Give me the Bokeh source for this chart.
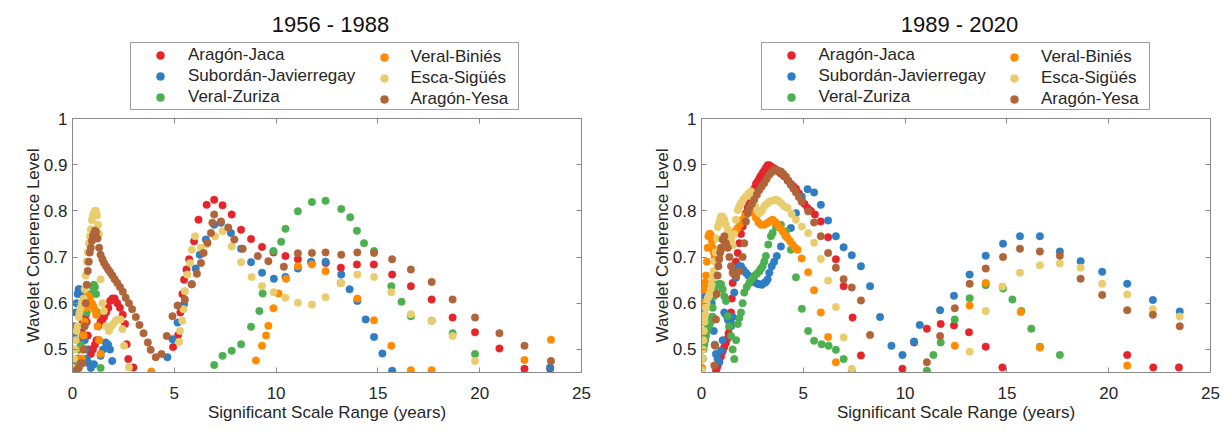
from bokeh.plotting import figure
from bokeh.models import Range1d, FixedTicker, LinearAxis, Legend, LegendItem, Label, ColumnDataSource
from bokeh.layouts import row, column
from bokeh.embed import file_html
from bokeh.resources import INLINE

FONT = "Liberation Sans"
SERIES_NAMES = ["Aragón-Jaca", "Subordán-Javierregay", "Veral-Zuriza",
                "Veral-Biniés", "Esca-Sigüés", "Aragón-Yesa"]
SERIES_COLORS = ["#E4262C", "#2F7DC2", "#4CAF50", "#FF8C00", "#E9CC6E", "#B0643A"]
X_TICKS = [0, 5, 10, 15, 20, 25]
Y_TICKS = [0.5, 0.6, 0.7, 0.8, 0.9, 1.0]
TITLE_1 = "1956 - 1988"
TITLE_2 = "1989 - 2020"
X_LABEL = "Significant Scale Range (years)"
Y_LABEL = "Wavelet Coherence Level"

# ---------------- 1956 - 1988 : (scale in years, coherence) ----------------
P1_ARAGON_JACA = [(0.25,0.46),(0.3,0.48),(0.35,0.50),(0.4,0.52),(0.45,0.54),(0.5,0.56),(0.55,0.575),(0.6,0.58),(0.65,0.575),(0.7,0.56),(0.75,0.53),(0.8,0.50),(0.9,0.49),(1.0,0.50),(1.1,0.51),(1.18,0.52),(1.26,0.55),(1.38,0.56),(1.47,0.565),(1.55,0.57),(1.65,0.58),(1.76,0.59),(1.85,0.605),(1.96,0.61),(2.07,0.61),(2.2,0.60),(2.33,0.59),(2.47,0.575),(2.58,0.555),(2.66,0.511),(2.74,0.479),(2.99,0.461),
    (4.94,0.505),(5.19,0.531),(5.3,0.58),(5.4,0.62),(5.48,0.651),(5.6,0.673),(5.73,0.695),(5.97,0.734),(6.19,0.781),(6.59,0.813),(6.96,0.824),(7.37,0.812),(7.82,0.792),(8.28,0.759),(8.77,0.739),(9.31,0.722),(9.87,0.71),(10.46,0.702),(11.07,0.695),(11.74,0.687),(12.44,0.687),(13.18,0.677),(13.97,0.684),(14.8,0.684),(15.7,0.662),(16.62,0.637),(17.64,0.608),(18.67,0.569),(19.77,0.537),(20.97,0.502),(22.2,0.458),(23.46,0.458)]
P1_SUBORDAN = [(0.0,0.47),(0.03,0.50),(0.06,0.53),(0.1,0.55),(0.15,0.58),(0.2,0.60),(0.25,0.62),(0.3,0.63),(0.35,0.63),(0.4,0.62),(0.45,0.60),(0.5,0.58),(0.55,0.55),(0.6,0.52),(0.65,0.50),(0.7,0.48),(0.8,0.47),(0.9,0.46),(1.05,0.468),(1.38,0.486),(1.5,0.50),(1.63,0.515),(1.75,0.51),(1.84,0.50),(1.95,0.475),
    (4.66,0.483),(4.91,0.522),(5.16,0.558),(5.48,0.598),(5.86,0.641),(6.05,0.675),(6.25,0.705),(6.55,0.738),(6.96,0.77),(7.29,0.774),(7.78,0.752),(8.28,0.718),(8.77,0.689),(9.31,0.666),(9.89,0.653),(10.46,0.657),(11.07,0.675),(11.72,0.69),(12.43,0.69),(13.2,0.662),(13.61,0.63),(13.99,0.605),(14.4,0.565),(14.81,0.527),(15.22,0.491),(15.7,0.454),(23.46,0.461)]
P1_VERAL_ZURIZA = [(0.1,0.46),(0.2,0.48),(0.3,0.50),(0.4,0.51),(0.5,0.53),(0.6,0.56),(0.7,0.58),(0.8,0.60),(0.9,0.62),(1.0,0.635),(1.05,0.64),(1.1,0.635),(1.16,0.62),(1.23,0.58),(1.31,0.52),(1.38,0.46),
    (6.96,0.466),(7.37,0.486),(7.82,0.497),(8.28,0.511),(8.77,0.549),(9.18,0.583),(9.34,0.621),(9.87,0.713),(10.25,0.733),(10.46,0.761),(11.07,0.799),(11.76,0.819),(12.43,0.822),(13.2,0.804),(13.64,0.786),(13.97,0.757),(14.32,0.73),(14.81,0.713),(15.66,0.637),(16.16,0.603),(16.62,0.572),(17.64,0.562),(18.67,0.535),(19.77,0.49)]
P1_VERAL_BINIES = [(0.3,0.46),(0.4,0.47),(0.45,0.48),(0.5,0.50),(0.55,0.53),(0.6,0.56),(0.65,0.59),(0.7,0.61),(0.75,0.615),(0.8,0.615),(0.85,0.61),(0.9,0.60),(0.95,0.60),(1.0,0.595),(1.05,0.59),(1.1,0.585),(1.16,0.575),(1.23,0.55),(1.31,0.52),(1.38,0.49),(3.87,0.452),
    (9.01,0.476),(9.31,0.508),(9.51,0.53),(9.62,0.551),(9.87,0.589),(10.12,0.621),(10.49,0.653),(11.07,0.68),(11.76,0.684),(12.43,0.669),(13.17,0.644),(13.99,0.61),(14.81,0.563),(15.66,0.508),(16.62,0.455),(17.64,0.455),(22.2,0.477),(23.5,0.521)]
P1_ESCA_SIGUES = [(0.03,0.46),(0.08,0.48),(0.12,0.50),(0.16,0.52),(0.2,0.54),(0.25,0.55),(0.3,0.57),(0.35,0.58),(0.4,0.59),(0.45,0.60),(0.5,0.60),(0.55,0.61),(0.6,0.63),(0.65,0.66),(0.7,0.69),(0.75,0.71),(0.8,0.73),(0.85,0.745),(0.9,0.76),(0.95,0.78),(1.0,0.79),(1.05,0.795),(1.1,0.80),(1.15,0.80),(1.2,0.79),(1.25,0.77),(1.3,0.75),(1.38,0.652),(1.47,0.6),(1.54,0.583),(1.65,0.55),(1.79,0.54),(1.9,0.55),(2.0,0.555),(2.12,0.562),(2.24,0.565),(2.36,0.565),(2.45,0.544),(2.53,0.508),(2.77,0.461),
    (5.24,0.516),(5.28,0.54),(5.39,0.562),(5.45,0.587),(5.52,0.626),(5.64,0.662),(5.77,0.687),(5.86,0.716),(6.02,0.745),(6.3,0.72),(6.6,0.727),(7.0,0.745),(7.37,0.756),(7.82,0.723),(8.28,0.689),(8.8,0.657),(9.31,0.637),(9.88,0.624),(10.46,0.612),(11.07,0.601),(11.76,0.597),(12.43,0.613),(13.2,0.644),(13.99,0.662),(14.81,0.657),(15.66,0.624),(16.62,0.576),(17.64,0.562),(18.67,0.529),(19.77,0.475)]
P1_ARAGON_YESA = [(0.2,0.455),(0.3,0.46),(0.4,0.47),(0.5,0.47),(0.55,0.50),(0.6,0.55),(0.65,0.60),(0.7,0.64),(0.75,0.67),(0.8,0.69),(0.85,0.71),(0.9,0.72),(0.95,0.735),(1.0,0.745),(1.05,0.75),(1.1,0.757),(1.16,0.755),(1.23,0.74),(1.31,0.72),(1.38,0.705),(1.47,0.695),(1.55,0.687),(1.65,0.68),(1.75,0.673),(1.85,0.667),(1.96,0.66),(2.07,0.652),(2.2,0.644),(2.33,0.635),(2.47,0.625),(2.61,0.612),(2.77,0.6),(2.93,0.587),(3.11,0.57),(3.29,0.553),(3.49,0.535),(3.7,0.515),(3.84,0.499),(4.09,0.483),(4.37,0.49),
    (4.63,0.529),(4.91,0.572),(5.16,0.595),(5.52,0.608),(5.85,0.641),(6.11,0.664),(6.31,0.687),(6.44,0.709),(6.63,0.731),(6.8,0.752),(6.87,0.774),(6.96,0.792),(7.29,0.777),(7.65,0.764),(7.95,0.738),(8.36,0.718),(9.1,0.702),(9.62,0.691),(10.38,0.679),(11.07,0.708),(11.76,0.709),(12.43,0.71),(13.2,0.705),(13.99,0.71),(14.81,0.709),(15.7,0.695),(16.62,0.673),(17.64,0.646),(18.67,0.608),(19.77,0.569),(20.97,0.535),(22.2,0.508),(23.5,0.475)]

# ---------------- 1989 - 2020 ----------------
P2_ARAGON_JACA = [(0.71,0.454),(0.75,0.46),(0.79,0.465),(0.87,0.475),(0.96,0.485),(1.04,0.496),(1.12,0.505),(1.2,0.514),(1.29,0.524),(1.33,0.535),(1.37,0.548),(1.41,0.562),(1.45,0.58),(1.49,0.61),(1.53,0.644),(1.61,0.665),(1.69,0.69),(1.78,0.709),(1.86,0.73),(1.94,0.75),(2.02,0.766),(2.1,0.78),(2.18,0.795),(2.27,0.807),(2.35,0.817),(2.43,0.827),(2.51,0.837),(2.59,0.848),(2.67,0.858),(2.75,0.863),(2.84,0.87),(2.92,0.876),(3.0,0.882),(3.08,0.887),(3.16,0.893),(3.25,0.899),(3.33,0.899),(3.45,0.895),(3.57,0.892),(3.66,0.889),(3.78,0.885),(3.9,0.881),(4.06,0.875),(4.23,0.866),(4.39,0.858),(4.52,0.853),(4.64,0.848),(4.78,0.838),(4.92,0.825),(5.06,0.815),(5.21,0.806),(5.37,0.8),(5.57,0.792),(5.86,0.777),(6.22,0.743),(6.6,0.695),(6.98,0.637),(7.42,0.569),(7.83,0.487),
    (9.87,0.458),(10.44,0.515),(11.07,0.545),(11.75,0.555),(12.4,0.552),(13.14,0.537),(13.96,0.506),(14.78,0.461),(20.91,0.488),(22.19,0.461),(23.45,0.461)]
P2_SUBORDAN = [(0.0,0.5),(0.04,0.53),(0.08,0.56),(0.12,0.58),(0.16,0.6),(0.2,0.615),(0.25,0.625),(0.3,0.63),(0.35,0.635),(0.4,0.63),(0.45,0.62),(0.5,0.6),(0.55,0.57),(0.6,0.54),(0.65,0.51),(0.71,0.49),(0.79,0.48),(0.87,0.472),(0.96,0.497),(1.04,0.52),(1.12,0.58),(1.2,0.575),(1.29,0.565),(1.37,0.558),(1.45,0.55),(1.53,0.57),(1.61,0.623),(1.69,0.655),(1.78,0.675),(1.85,0.68),(1.94,0.68),(2.06,0.672),(2.18,0.666),(2.3,0.66),(2.43,0.652),(2.51,0.648),(2.63,0.645),(2.75,0.642),(2.84,0.641),(2.96,0.64),(3.08,0.644),(3.16,0.646),(3.25,0.652),(3.33,0.666),(3.45,0.68),(3.57,0.69),(3.7,0.702),(3.9,0.723),(4.15,0.745),(4.39,0.763),(4.64,0.795),(4.92,0.831),(5.21,0.847),(5.53,0.84),(5.86,0.813),(6.22,0.779),(6.6,0.745),(6.98,0.721),(7.38,0.704),(7.83,0.68),(8.28,0.637),(8.77,0.57),(9.33,0.508),(9.87,0.488),(10.44,0.517),(10.72,0.553),(11.72,0.585),(12.4,0.616),(13.17,0.662),(13.96,0.703),(14.81,0.729),(15.64,0.745),(16.62,0.745),(17.6,0.712),(18.62,0.691),(19.68,0.668),(20.91,0.642),(22.17,0.607),(23.49,0.582)]
P2_VERAL_ZURIZA = [(0.02,0.46),(0.06,0.48),(0.1,0.5),(0.14,0.51),(0.18,0.52),(0.22,0.53),(0.26,0.54),(0.3,0.545),(0.35,0.55),(0.4,0.555),(0.45,0.56),(0.5,0.57),(0.55,0.59),(0.6,0.615),(0.65,0.63),(0.71,0.64),(0.79,0.64),(0.87,0.642),(0.96,0.641),(1.04,0.63),(1.12,0.615),(1.2,0.605),(1.29,0.572),(1.37,0.55),(1.45,0.529),(1.53,0.5),(1.61,0.479),(1.7,0.52),(1.78,0.555),(1.86,0.568),(1.94,0.58),(2.02,0.6),(2.1,0.623),(2.22,0.635),(2.35,0.644),(2.47,0.652),(2.59,0.659),(2.72,0.664),(2.84,0.669),(2.92,0.675),(3.0,0.68),(3.08,0.69),(3.16,0.702),(3.28,0.727),(3.41,0.745),(3.49,0.752),(3.66,0.765),(3.9,0.77),(4.15,0.756),(4.39,0.716),(4.64,0.656),(4.93,0.588),(5.24,0.54),(5.53,0.519),(5.9,0.511),(6.24,0.508),(6.6,0.499),(6.98,0.479),(7.38,0.452),
    (11.07,0.454),(11.39,0.488),(11.75,0.515),(12.44,0.565),(13.17,0.611),(13.96,0.639),(14.81,0.632),(15.27,0.608),(15.71,0.583),(16.2,0.545),(16.62,0.506),(17.6,0.488)]
P2_VERAL_BINIES = [(0.02,0.46),(0.04,0.5),(0.06,0.54),(0.08,0.57),(0.1,0.6),(0.14,0.63),(0.18,0.645),(0.22,0.66),(0.26,0.69),(0.3,0.72),(0.34,0.745),(0.38,0.75),(0.43,0.75),(0.47,0.745),(0.51,0.735),(0.55,0.72),(0.6,0.71),(0.65,0.70),(0.7,0.695),(0.79,0.695),(0.87,0.70),(0.96,0.716),(1.04,0.72),(1.12,0.725),(1.2,0.73),(1.29,0.735),(1.37,0.74),(1.45,0.745),(1.53,0.75),(1.61,0.752),(1.7,0.758),(1.78,0.763),(1.9,0.772),(2.02,0.781),(2.15,0.79),(2.27,0.795),(2.39,0.798),(2.51,0.799),(2.59,0.795),(2.67,0.785),(2.8,0.775),(2.92,0.77),(3.08,0.77),(3.25,0.774),(3.37,0.778),(3.49,0.781),(3.62,0.776),(3.74,0.77),(3.86,0.763),(3.98,0.756),(4.1,0.748),(4.23,0.741),(4.35,0.734),(4.47,0.727),(4.6,0.72),(4.72,0.716),(4.92,0.697),(5.24,0.667),(5.53,0.628),(5.86,0.58),(6.22,0.527),(6.6,0.472),
    (12.44,0.508),(13.17,0.595),(13.96,0.644),(15.68,0.581),(16.62,0.504),(20.91,0.465)]
P2_ESCA_SIGUES = [(0.0,0.455),(0.03,0.48),(0.06,0.5),(0.09,0.52),(0.12,0.54),(0.15,0.56),(0.18,0.575),(0.21,0.59),(0.25,0.6),(0.3,0.61),(0.35,0.615),(0.4,0.62),(0.45,0.63),(0.5,0.64),(0.55,0.655),(0.6,0.67),(0.65,0.69),(0.7,0.71),(0.75,0.74),(0.8,0.765),(0.87,0.775),(0.92,0.781),(0.96,0.788),(1.04,0.787),(1.12,0.781),(1.2,0.77),(1.29,0.759),(1.37,0.748),(1.45,0.738),(1.53,0.725),(1.61,0.75),(1.69,0.781),(1.78,0.802),(1.86,0.81),(1.94,0.817),(2.06,0.825),(2.18,0.831),(2.3,0.837),(2.43,0.842),(2.51,0.83),(2.63,0.81),(2.75,0.8),(2.84,0.795),(2.96,0.8),(3.08,0.81),(3.2,0.815),(3.33,0.82),(3.45,0.822),(3.57,0.823),(3.66,0.824),(3.78,0.822),(3.9,0.817),(4.06,0.81),(4.23,0.806),(4.43,0.793),(4.64,0.781),(4.93,0.766),(5.24,0.752),(5.53,0.731),(5.86,0.696),(6.22,0.649),(6.6,0.592),(6.98,0.526),(7.38,0.458),
    (13.17,0.495),(13.96,0.583),(14.78,0.636),(15.64,0.666),(16.62,0.682),(17.6,0.686),(18.62,0.677),(19.68,0.642),(20.91,0.619),(22.17,0.587),(23.49,0.571)]
P2_ARAGON_YESA = [(0.63,0.465),(0.67,0.508),(0.71,0.565),(0.75,0.62),(0.79,0.66),(0.83,0.68),(0.87,0.695),(0.92,0.71),(0.96,0.72),(1.04,0.738),(1.12,0.745),(1.2,0.73),(1.29,0.72),(1.37,0.7),(1.45,0.68),(1.53,0.666),(1.61,0.662),(1.69,0.659),(1.85,0.669),(2.02,0.70),(2.1,0.73),(2.18,0.777),(2.27,0.795),(2.35,0.806),(2.47,0.815),(2.59,0.824),(2.72,0.835),(2.84,0.845),(2.96,0.853),(3.08,0.86),(3.2,0.869),(3.33,0.878),(3.45,0.884),(3.57,0.889),(3.7,0.888),(3.82,0.886),(3.9,0.885),(4.02,0.88),(4.15,0.874),(4.27,0.865),(4.39,0.856),(4.52,0.848),(4.64,0.84),(4.78,0.83),(4.92,0.82),(5.24,0.799),(5.53,0.775),(5.86,0.745),(6.22,0.709),(6.6,0.677),(6.98,0.652),(7.38,0.634),(7.83,0.606),(8.28,0.531),
    (11.07,0.472),(11.72,0.529),(12.44,0.589),(13.17,0.642),(13.96,0.675),(14.81,0.70),(15.64,0.718),(16.62,0.712),(17.6,0.703),(18.62,0.653),(19.68,0.618),(20.91,0.585),(22.17,0.575),(23.49,0.55)]

PANEL_1 = [P1_ARAGON_JACA, P1_SUBORDAN, P1_VERAL_ZURIZA, P1_VERAL_BINIES, P1_ESCA_SIGUES, P1_ARAGON_YESA]
PANEL_2 = [P2_ARAGON_JACA, P2_SUBORDAN, P2_VERAL_ZURIZA, P2_VERAL_BINIES, P2_ESCA_SIGUES, P2_ARAGON_YESA]

AXIS_GREY = "#8a8a8a"
TEXT_COLOR = "#262626"
HEADER_H = 110
FRAME_W = 509


def style_axis(ax, ticks, show_labels):
    ax.ticker = FixedTicker(ticks=ticks)
    ax.minor_tick_line_color = None
    ax.major_tick_in = 5
    ax.major_tick_out = 0
    ax.axis_line_color = AXIS_GREY
    ax.major_tick_line_color = AXIS_GREY
    ax.major_label_text_font = FONT
    ax.major_label_text_font_size = "17px"
    ax.major_label_text_color = TEXT_COLOR
    ax.axis_label_text_font = FONT
    ax.axis_label_text_font_size = "17px"
    ax.axis_label_text_font_style = "normal"
    ax.axis_label_text_color = TEXT_COLOR
    if not show_labels:
        ax.major_label_overrides = {t: "" for t in ticks}
        ax.major_label_standoff = 0


def sources(panel):
    return [ColumnDataSource(data=dict(x=[a for a, b in pts], y=[b for a, b in pts])) for pts in panel]


def build_main(srcs, left, right):
    p = figure(frame_width=FRAME_W, frame_height=254,
               x_range=Range1d(0, 25), y_range=Range1d(0.45, 1.0),
               output_backend="svg", toolbar_location=None,
               min_border_left=left, min_border_right=right,
               min_border_top=118 - HEADER_H, min_border_bottom=61,
               background_fill_color="white", border_fill_color="white")
    p.grid.visible = False
    p.outline_line_color = None

    style_axis(p.xaxis[0], X_TICKS, True)
    p.xaxis[0].axis_label = X_LABEL
    p.xaxis[0].major_label_standoff = 14
    p.xaxis[0].axis_label_standoff = 1
    style_axis(p.yaxis[0], Y_TICKS, True)
    p.yaxis[0].axis_label = Y_LABEL
    p.yaxis[0].major_label_standoff = 5
    p.yaxis[0].axis_label_standoff = -2
    p.yaxis[0].major_label_overrides = {1: "1"}

    top = LinearAxis()
    style_axis(top, X_TICKS, False)
    p.add_layout(top, "above")
    rt = LinearAxis()
    style_axis(rt, Y_TICKS, False)
    p.add_layout(rt, "right")

    for src, color in zip(srcs, SERIES_COLORS):
        p.scatter("x", "y", source=src, marker="circle", size=7.5,
                  fill_color=color, line_color=color, line_width=0.5)
    return p


def build_header(title, srcs, left, right, title_x, box_x, col2_x):
    h = figure(frame_width=FRAME_W, frame_height=HEADER_H,
               x_range=Range1d(0, FRAME_W), y_range=Range1d(0, HEADER_H),
               x_axis_type=None, y_axis_type=None, output_backend="svg", toolbar_location=None,
               min_border_left=left, min_border_right=right, min_border_top=0, min_border_bottom=0,
               background_fill_color="white", border_fill_color="white")
    h.outline_line_color = None
    h.grid.visible = False
    # legend keys: hidden copies of the series renderers (only their legend glyph is drawn)
    keys = []
    for src, color in zip(srcs, SERIES_COLORS):
        r = h.scatter("x", "y", source=src, marker="circle", size=7.5,
                      fill_color=color, line_color=color, line_width=0.5)
        r.visible = False
        keys.append(r)
    common = dict(padding=2, glyph_height=20, label_height=20, spacing=1, margin=0,
                  label_text_font=FONT, label_text_font_size="17px",
                  label_text_color=TEXT_COLOR, inactive_fill_alpha=0.0,
                  click_policy="none")
    leg1 = Legend(items=[LegendItem(label=SERIES_NAMES[i], renderers=[keys[i]]) for i in range(3)],
                  location=(box_x, 0), glyph_width=54, label_standoff=1, label_width=328,
                  border_line_color="#3c3c3c", border_line_width=1,
                  background_fill_color="white", background_fill_alpha=1.0, **common)
    leg2 = Legend(items=[LegendItem(label=SERIES_NAMES[i], renderers=[keys[i]]) for i in range(3, 6)],
                  location=(col2_x, 1.5), glyph_width=20, label_standoff=17,
                  border_line_color=None, background_fill_alpha=0.0, **common)
    h.add_layout(leg1, "center")
    h.add_layout(leg2, "center")
    h.add_layout(Label(x=title_x, y=HEADER_H - 24, text=title, text_align="center",
                       text_baseline="middle", text_font=FONT, text_font_size="22px",
                       text_color="#111111"))
    return h


s1 = sources(PANEL_1)
s2 = sources(PANEL_2)
h1 = build_header(TITLE_1, s1, 72, 32, 258, 58, 301.5)
p1 = build_main(s1, 72, 32)
h2 = build_header(TITLE_2, s2, 88, 16, 258, 59.5, 303)
p2 = build_main(s2, 88, 16)
layout = row(column(h1, p1), column(h2, p2))

open("out.html", "w").write(file_html(layout, INLINE))
